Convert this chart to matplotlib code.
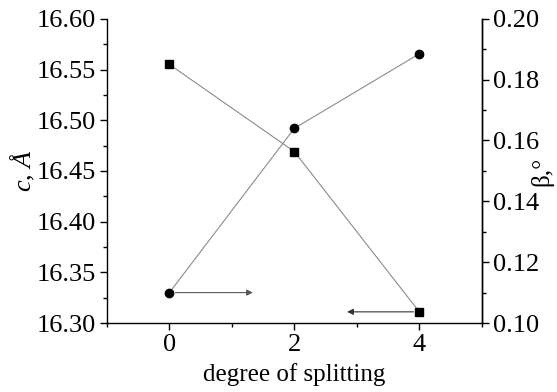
import matplotlib
matplotlib.use("Agg")
import matplotlib.pyplot as plt
from matplotlib.ticker import MultipleLocator

plt.rcParams['font.family'] = ['Liberation Serif', 'DejaVu Serif']
plt.rcParams['mathtext.fontset'] = 'custom'
plt.rcParams['mathtext.rm'] = 'Liberation Serif'
plt.rcParams['mathtext.it'] = 'Liberation Serif:italic'

# data
splitting = [0, 2, 4]
c_vals = [16.555, 16.469, 16.311]
beta_vals = [0.110, 0.164, 0.1885]

fig = plt.figure(figsize=(5.57, 3.92), dpi=100)
ax = fig.add_axes([0.192, 0.176, 0.673, 0.776])
ax2 = ax.twinx()

ax.plot(splitting, c_vals, color='0.55', lw=0.8, marker='s', ms=5.5,
        mfc='black', mec='black', zorder=3)
ax2.plot(splitting, beta_vals, color='0.55', lw=0.8, marker='o', ms=6,
         mfc='black', mec='black', zorder=3)

# arrows pointing at the axis each series belongs to
ax2.annotate('', xy=(1.38, beta_vals[0]), xytext=(0.05, beta_vals[0]),
             arrowprops=dict(arrowstyle='-|>', color='0.35', lw=0.8,
                             mutation_scale=9))
ax.annotate('', xy=(2.8, c_vals[2]), xytext=(3.95, c_vals[2]),
            arrowprops=dict(arrowstyle='-|>', color='0.2', lw=0.8,
                            mutation_scale=9))

ax.set_xlim(-1, 5)
ax.set_ylim(16.30, 16.60)
ax2.set_ylim(0.10, 0.20)

ax.set_xticks([0, 2, 4])
ax.xaxis.set_minor_locator(MultipleLocator(1))
ax.set_yticks([16.30, 16.35, 16.40, 16.45, 16.50, 16.55, 16.60])
ax.set_yticklabels(['%.2f' % v for v in ax.get_yticks()])
ax.yaxis.set_minor_locator(MultipleLocator(0.025))
ax2.set_yticks([0.10, 0.12, 0.14, 0.16, 0.18, 0.20])
ax2.set_yticklabels(['%.2f' % v for v in ax2.get_yticks()])
ax2.yaxis.set_minor_locator(MultipleLocator(0.01))

for a in (ax, ax2):
    a.spines['top'].set_visible(False)
    for s in a.spines.values():
        s.set_linewidth(1.0)
    a.tick_params(which='major', direction='out', length=5, width=1,
                  labelsize=19, pad=3)
    a.tick_params(which='minor', direction='out', length=3, width=1)
ax.tick_params(axis='y', which='both', right=False)
ax2.spines['left'].set_visible(False)
ax2.spines['bottom'].set_visible(False)

ax.set_xlabel('degree of splitting', fontsize=18, labelpad=5)
ax.set_ylabel(r'$\mathit{c}$, $\mathit{\AA}$', fontsize=19, labelpad=0)
ax2.set_ylabel('β,°', fontsize=18)
ax2.yaxis.set_label_coords(1.13, 0.5)

fig.savefig('out.png', dpi=100)
